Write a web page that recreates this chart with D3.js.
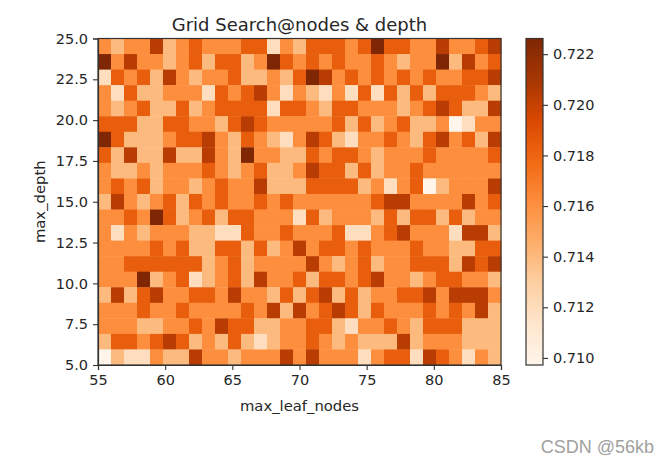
<!DOCTYPE html>
<html>
<head>
<meta charset="utf-8">
<script src="https://cdn.jsdelivr.net/npm/d3@7"></script>
<style>
  html, body { margin: 0; padding: 0; background: #fff; }
  svg { display: block; }
  text { font-family: "DejaVu Sans", sans-serif; fill: #262626; }
</style>
</head>
<body>
<div id="chart"></div>
<script>
const xTicks = [55, 60, 65, 70, 75, 80, 85];
const yTicks = [5, 7.5, 10, 12.5, 15, 17.5, 20, 22.5, 25];
const colorTicks = [0.71, 0.712, 0.714, 0.716, 0.718, 0.72, 0.722];

// the scores only take a few distinct values, cells below index into this list
const scoreLevels = [0.7097, 0.7119, 0.714, 0.7161, 0.7183, 0.7204, 0.7226];

// top row is max_depth 25, left column is max_leaf_nodes 55
const scoreRows = [
  [3,2,3,3,5,2,3,4,3,3,3,4,4,1,3,2,4,4,4,3,4,6,4,4,3,3,5,3,3,4,5],
  [6,3,5,3,3,2,3,4,2,4,4,2,3,6,4,3,4,3,4,3,3,4,3,2,3,3,6,2,5,3,4],
  [1,4,3,4,2,5,3,2,3,3,4,2,2,3,2,4,6,5,3,4,3,4,3,4,3,4,3,3,4,4,5],
  [3,1,4,2,2,3,3,3,1,4,3,4,5,3,1,3,2,1,3,1,4,1,4,2,4,2,4,4,4,3,2],
  [3,2,3,4,2,2,4,2,3,4,4,4,4,1,4,4,3,2,4,4,3,3,3,2,3,4,5,4,2,2,5],
  [4,4,4,2,2,4,4,3,3,2,4,5,4,3,3,3,3,3,4,2,4,2,3,4,2,2,3,0,1,3,3],
  [6,4,2,2,2,3,4,4,5,3,2,4,3,2,1,3,5,4,2,1,3,3,4,3,2,4,5,3,4,2,5],
  [4,2,5,2,2,5,2,2,5,3,2,6,3,3,2,2,4,3,4,4,3,2,3,3,3,4,3,3,3,3,4],
  [3,2,2,3,2,3,3,3,4,3,2,3,4,2,2,3,5,4,4,2,4,2,3,3,4,3,3,3,3,3,3],
  [3,4,3,4,2,3,3,2,3,4,3,3,5,2,2,2,4,4,4,4,2,3,1,3,4,0,2,3,3,3,5],
  [2,5,3,2,3,4,2,4,3,4,3,3,4,3,4,3,3,3,3,3,3,4,5,5,3,3,3,3,5,3,4],
  [3,3,4,3,6,4,2,3,4,2,4,4,3,3,3,1,4,2,3,3,3,2,4,2,4,4,2,4,2,3,3],
  [3,1,3,2,3,3,3,2,2,1,1,4,3,3,4,3,3,3,4,1,1,3,4,5,3,3,3,1,5,5,2],
  [3,3,3,3,4,3,4,2,2,4,4,2,4,2,3,5,3,4,4,3,4,3,3,3,4,3,3,2,2,4,4],
  [3,3,4,4,4,4,4,4,2,3,4,2,3,3,3,3,5,3,2,3,4,2,3,3,4,4,4,2,5,4,5],
  [3,3,3,6,2,3,4,1,2,3,4,2,5,3,3,4,2,4,4,3,4,5,3,3,2,3,4,4,3,3,2],
  [2,5,2,4,5,3,3,4,4,3,5,3,3,2,4,2,4,5,2,4,2,3,3,4,4,5,3,5,5,5,3],
  [3,3,3,4,3,3,4,3,3,3,3,4,3,5,2,5,3,4,5,4,2,4,3,3,3,4,3,4,3,5,2],
  [3,3,3,2,2,3,3,4,3,5,4,4,2,2,3,3,4,4,2,1,3,3,4,3,2,4,4,4,2,2,2],
  [2,4,4,3,4,5,4,2,3,2,4,2,1,2,3,3,4,3,2,3,2,2,2,5,2,3,3,3,2,2,2],
  [0,2,1,1,3,2,2,5,3,3,2,3,3,3,5,3,5,3,3,3,1,3,4,4,1,5,4,3,1,3,2]
];

const width = 669;
const height = 465;
const margin = { top: 38.5, left: 98, right: 168, bottom: 100 };
const plotWidth = width - margin.left - margin.right;
const plotHeight = height - margin.top - margin.bottom;

const vmin = 0.70972;
const vmax = 0.72262;

const svg = d3.select('#chart').append('svg')
  .attr('width', width)
  .attr('height', height);

const color = d3.scaleLinear()
  .domain(d3.schemeOranges[9].map((c, i) => vmin + (i / 8) * (vmax - vmin)))
  .range(d3.schemeOranges[9]);

const g = svg.append('g').attr('transform', `translate(${margin.left},${margin.top})`);

const colBand = d3.scaleBand().domain(d3.range(scoreRows[0].length)).range([0, plotWidth]);
const rowBand = d3.scaleBand().domain(d3.range(scoreRows.length)).range([0, plotHeight]);

const rows = g.selectAll('g.row')
  .data(scoreRows)
  .enter()
  .append('g')
  .attr('class', 'row')
  .attr('transform', (d, i) => `translate(0,${rowBand(i)})`);

rows.selectAll('rect')
  .data(d => d)
  .enter()
  .append('rect')
  .attr('x', (d, i) => colBand(i))
  .attr('width', colBand.bandwidth() + 0.4)
  .attr('height', rowBand.bandwidth() + 0.4)
  .attr('fill', d => color(scoreLevels[d]));

const xScale = d3.scaleLinear().domain([55, 85]).range([0, plotWidth]);
const yScale = d3.scaleLinear().domain([5, 25]).range([plotHeight, 0]);

function styleAxis(sel) {
  sel.selectAll('.domain').attr('stroke', '#333').attr('stroke-width', 1.2);
  sel.selectAll('.tick line').attr('stroke', '#333').attr('stroke-width', 1.1);
  sel.selectAll('.tick text').attr('fill', '#262626').style('font-size', '14.5px');
}

g.append('g')
  .attr('transform', `translate(0,${plotHeight})`)
  .call(d3.axisBottom(xScale).tickValues(xTicks).tickFormat(d3.format('d')).tickSize(5).tickPadding(5))
  .call(styleAxis);

g.append('g')
  .call(d3.axisLeft(yScale).tickValues(yTicks).tickFormat(d3.format('.1f')).tickSize(5).tickPadding(5))
  .call(styleAxis);

g.append('rect')
  .attr('width', plotWidth)
  .attr('height', plotHeight)
  .attr('fill', 'none')
  .attr('stroke', '#333')
  .attr('stroke-width', 1.2);

g.append('text')
  .attr('x', plotWidth / 2)
  .attr('y', -8)
  .attr('text-anchor', 'middle')
  .style('font-size', '18px')
  .text('Grid Search@nodes & depth');

g.append('text')
  .attr('x', plotWidth / 2)
  .attr('y', plotHeight + 46)
  .attr('text-anchor', 'middle')
  .style('font-size', '14.8px')
  .text('max_leaf_nodes');

g.append('text')
  .attr('transform', `translate(-53,${plotHeight / 2}) rotate(-90)`)
  .attr('text-anchor', 'middle')
  .style('font-size', '14.8px')
  .text('max_depth');

// colorbar
const barX = 526;
const barWidth = 17;
const defs = svg.append('defs');
const gradient = defs.append('linearGradient')
  .attr('id', 'bar-gradient')
  .attr('x1', 0).attr('y1', 1)
  .attr('x2', 0).attr('y2', 0);

gradient.selectAll('stop')
  .data(d3.schemeOranges[9])
  .enter()
  .append('stop')
  .attr('offset', (d, i) => i / 8)
  .attr('stop-color', d => d);

const barG = svg.append('g').attr('transform', `translate(${barX},${margin.top})`);

barG.append('rect')
  .attr('width', barWidth)
  .attr('height', plotHeight)
  .attr('fill', 'url(#bar-gradient)')
  .attr('stroke', '#333')
  .attr('stroke-width', 1.2);

const barScale = d3.scaleLinear().domain([vmin, vmax]).range([plotHeight, 0]);

barG.append('g')
  .attr('transform', `translate(${barWidth},0)`)
  .call(d3.axisRight(barScale).tickValues(colorTicks).tickFormat(d3.format('.3f')).tickSize(5).tickPadding(5))
  .call(styleAxis)
  .select('.domain').remove();

svg.append('text')
  .attr('x', 654)
  .attr('y', 453)
  .attr('text-anchor', 'end')
  .style('font-family', '"Liberation Sans", sans-serif')
  .style('font-size', '18px')
  .style('fill', '#a0a0a0')
  .text('CSDN @56kb');
</script>
</body>
</html>
